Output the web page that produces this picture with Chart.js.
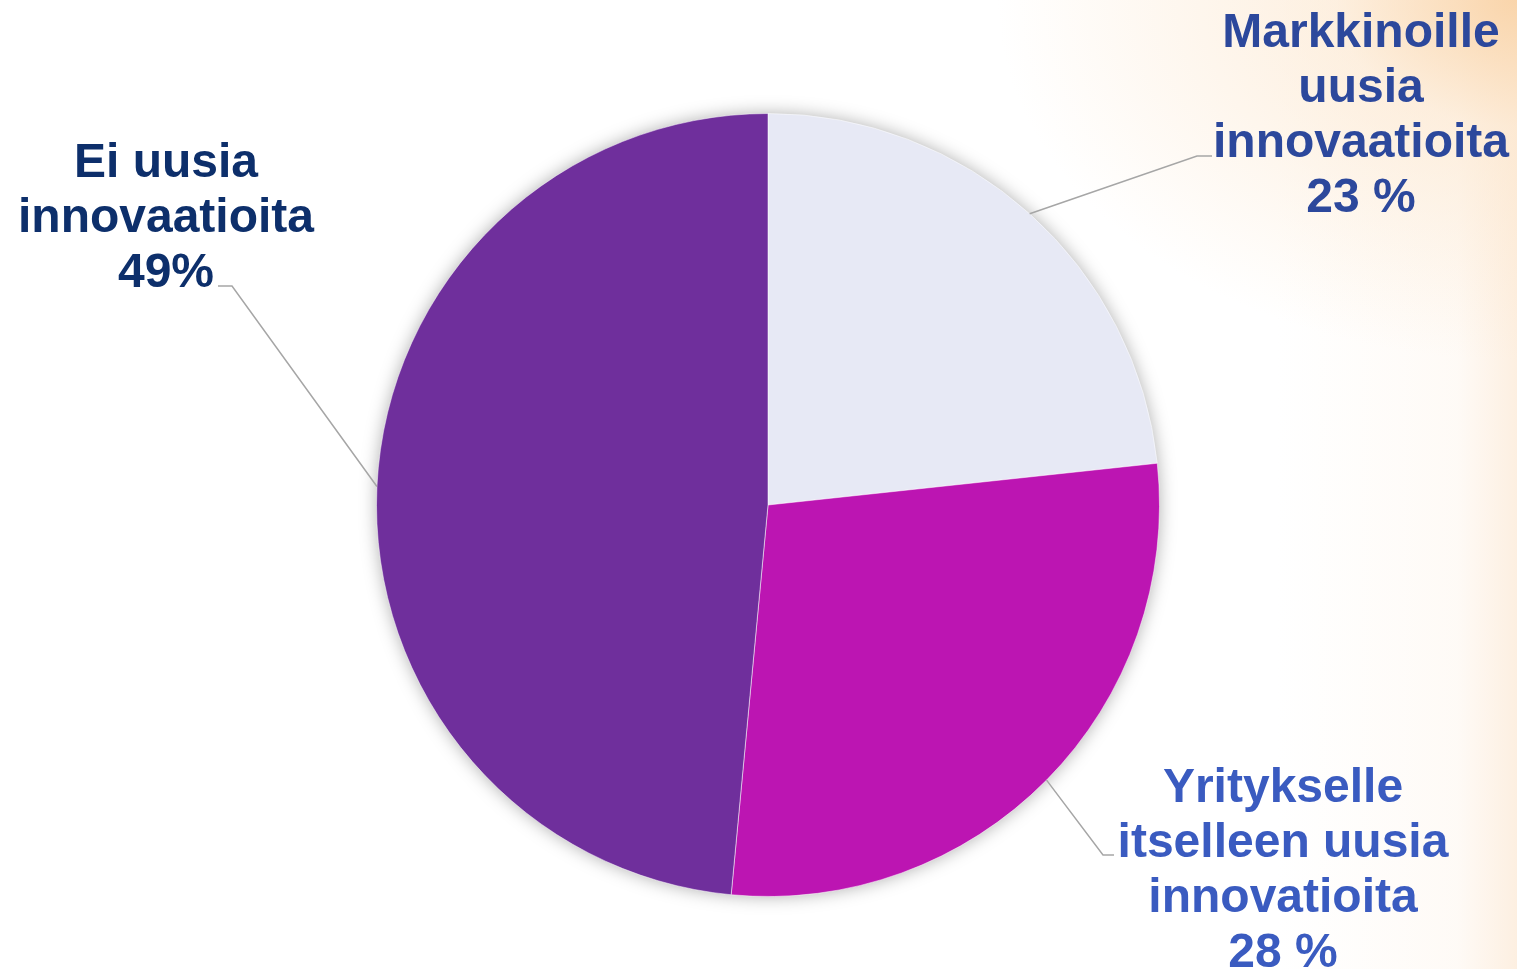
<!DOCTYPE html>
<html>
<head>
<meta charset="utf-8">
<script src="https://cdn.jsdelivr.net/npm/chart.js@4/dist/chart.umd.min.js"></script>
<style>
html,body{margin:0;padding:0;width:1517px;height:969px;overflow:hidden;}
body{
  background:
    radial-gradient(ellipse 520px 360px at 100% 0%, rgba(249,210,165,0.9) 0%, rgba(252,228,200,0.55) 35%, rgba(255,255,255,0) 100%),
    linear-gradient(to left, rgba(251,226,200,0.55) 0px, rgba(253,240,226,0.3) 60px, rgba(255,255,255,0) 240px),
    #ffffff;
}
#wrap{position:absolute;left:0;top:0;width:1517px;height:969px;}
</style>
</head>
<body>
<div id="wrap"><canvas id="c" width="1517" height="969"></canvas></div>
<script>
const categories = [
  ["Markkinoille", "uusia", "innovaatioita", "23 %"],
  ["Yritykselle", "itselleen uusia", "innovatioita", "28 %"],
  ["Ei uusia", "innovaatioita", "49%"]
];
// slice sizes (labels show rounded values)
const values = [23.3, 28.2, 48.5];
const sliceColors = ["#E7E9F5", "#BC15B2", "#6F2F9C"];
const labelColors = ["#2C489C", "#3A5BC0", "#0D2F6B"];

// label layout: text block center x, first line center y, elbow point, horizontal end
const labelLayout = [
  {x: 1361, y: 30, elbow: [1197, 156], end: [1212, 156]},
  {x: 1283, y: 785, elbow: [1103, 855], end: [1114, 855]},
  {x: 166, y: 160, elbow: [232, 286], end: [218, 286]}
];
const lineHeight = 55;

const shadowPlugin = {
  id: 'pieShadow',
  beforeDatasetsDraw(chart) {
    const arc = chart.getDatasetMeta(0).data[0];
    if (!arc) return;
    const ctx = chart.ctx;
    ctx.save();
    ctx.shadowColor = 'rgba(0,0,0,0.35)';
    ctx.shadowBlur = 18;
    ctx.shadowOffsetX = 0;
    ctx.shadowOffsetY = 0;
    ctx.fillStyle = '#ffffff';
    ctx.beginPath();
    ctx.arc(arc.x, arc.y, arc.outerRadius - 1, 0, Math.PI * 2);
    ctx.fill();
    ctx.restore();
  }
};

const labelPlugin = {
  id: 'pieLabels',
  afterDatasetsDraw(chart) {
    const ctx = chart.ctx;
    const meta = chart.getDatasetMeta(0);
    meta.data.forEach((arc, i) => {
      const mid = (arc.startAngle + arc.endAngle) / 2;
      const px = arc.x + Math.cos(mid) * arc.outerRadius;
      const py = arc.y + Math.sin(mid) * arc.outerRadius;
      const L = labelLayout[i];
      ctx.save();
      ctx.strokeStyle = '#A6A6A6';
      ctx.lineWidth = 1.5;
      ctx.beginPath();
      ctx.moveTo(px, py);
      ctx.lineTo(L.elbow[0], L.elbow[1]);
      ctx.lineTo(L.end[0], L.end[1]);
      ctx.stroke();
      ctx.fillStyle = labelColors[i];
      ctx.font = 'bold 48px "Liberation Sans", Arial, sans-serif';
      ctx.textAlign = 'center';
      ctx.textBaseline = 'alphabetic';
      categories[i].forEach((line, j) => {
        ctx.fillText(line, L.x, L.y + j * lineHeight + 17);
      });
      ctx.restore();
    });
  }
};

new Chart(document.getElementById('c'), {
  type: 'pie',
  data: {
    labels: categories.map(c => c.slice(0, -1).join(' ')),
    datasets: [{
      data: values,
      backgroundColor: sliceColors,
      borderColor: 'rgba(255,255,255,0.5)',
      borderWidth: 1
    }]
  },
  options: {
    responsive: false,
    animation: false,
    layout: {padding: {left: 376, right: 357, top: 113, bottom: 72}},
    plugins: {legend: {display: false}, tooltip: {enabled: false}}
  },
  plugins: [shadowPlugin, labelPlugin]
});
</script>
</body>
</html>
